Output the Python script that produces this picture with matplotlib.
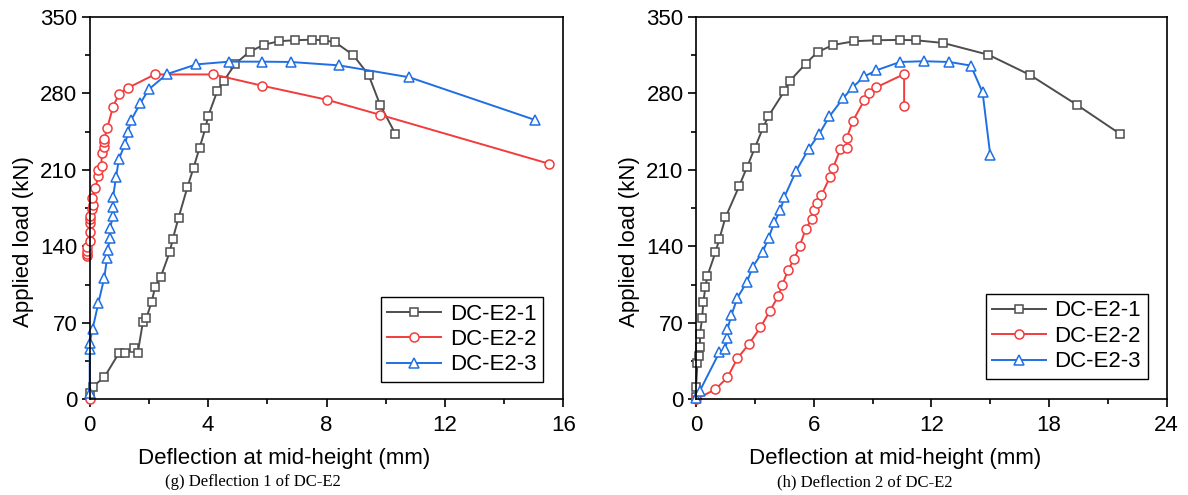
import matplotlib
matplotlib.use('Agg')
import matplotlib.pyplot as plt
from matplotlib.ticker import MultipleLocator

plt.rcParams['font.family'] = ['Liberation Sans', 'DejaVu Sans']

# (g) Deflection 1 of DC-E2
g1_x = [0, 0.1, 0.49, 0.98, 1.2, 1.5, 1.62, 1.8, 1.91, 2.09, 2.21, 2.4, 2.7, 2.81, 3.0, 3.3,
        3.51, 3.71, 3.91, 4.0, 4.31, 4.52, 4.92, 5.4, 5.9, 6.4, 6.92, 7.51, 7.91, 8.3, 8.9,
        9.42, 9.81, 10.33]
g1_y = [5.5, 11.7, 20, 42, 42, 47, 42, 71, 74, 89, 102.5, 112, 134.5, 147, 166, 194,
        212, 230, 248, 259, 282, 291, 307, 318, 324.5, 327.6, 328.5, 329, 328.5, 326.5, 315,
        296.8, 269.4, 242.7]
g2_x = [0, -0.1, -0.1, -0.1, -0.08, 0, 0, 0, 0, 0, 0.08, 0.1, 0.08, 0.19, 0.29, 0.29,
        0.4, 0.4, 0.49, 0.49, 0.49, 0.59, 0.79, 0.99, 1.3, 2.2, 4.18, 5.81, 8.02, 9.82, 15.53]
g2_y = [0, 131.5, 133, 136, 139, 144.6, 153.5, 161.5, 165, 167.6, 173.8, 177.5, 184, 193, 204.5, 209.7,
        213.4, 225, 230.6, 235, 238, 248, 267.7, 279.4, 285, 297.2, 297.2, 287, 274, 260.2, 215.4]
g3_x = [0, 0, 0, 0.1, 0.29, 0.49, 0.59, 0.61, 0.69, 0.69, 0.79, 0.79, 0.79, 0.89, 0.99,
        1.2, 1.3, 1.4, 1.71, 2.0, 2.61, 3.6, 4.71, 5.81, 6.79, 8.42, 10.8, 15.04]
g3_y = [5.5, 46, 51.6, 64.5, 87.8, 110.8, 129.6, 137, 148, 157, 167.6, 176, 184.8, 203.6, 220,
        234, 244.7, 255.4, 270.8, 283.7, 297.5, 306.4, 308.9, 308.9, 308.6, 305.5, 294.6, 255.6]

# (h) Deflection 2 of DC-E2
h1_x = [0, 0, 0.07, 0.17, 0.2, 0.2, 0.31, 0.37, 0.48, 0.58, 0.99, 1.19, 1.5, 2.19, 2.6, 2.99,
        3.4, 3.69, 4.5, 4.79, 5.59, 6.2, 7.0, 8.07, 9.23, 10.4, 11.2, 12.6, 14.91, 17.02,
        19.42, 21.63]
h1_y = [2.5, 11.7, 33, 40, 48, 60, 74, 89, 103, 113, 134.5, 146.8, 166.4, 194.7, 212.5, 229.7,
        247.8, 259, 281.9, 291.4, 307, 317.8, 324.2, 327.6, 328.5, 328.8, 328.5, 326, 315.2, 296.8,
        269.4, 242.7]
h2_x = [0, 0.99, 1.6, 2.11, 2.69, 3.28, 3.77, 4.2, 4.39, 4.69, 5.0, 5.29, 5.59, 5.9, 6.0,
        6.19, 6.39, 6.82, 6.99, 7.36, 7.7, 7.68, 8.0, 8.58, 8.82, 9.2, 10.61, 10.61]
h2_y = [0, 9.2, 20, 37.5, 50.4, 65.7, 81, 94.6, 104.4, 118.2, 128.3, 140.6, 155.7, 164.9, 173.2,
        180, 186.7, 203, 211.9, 228.7, 230.3, 238.9, 254.8, 273.6, 280.3, 285.5, 297.5, 268]
h3_x = [0, 0.2, 1.19, 1.5, 1.6, 1.6, 1.8, 2.11, 2.6, 2.89, 3.4, 3.71, 3.99, 4.3, 4.5,
        5.1, 5.74, 6.29, 6.8, 7.51, 7.99, 8.58, 9.18, 10.4, 11.6, 12.92, 14.01, 14.61, 15.0]
h3_y = [1, 8, 43, 46, 56, 64, 76.8, 93, 107.5, 121.3, 135, 148, 162, 172.9, 185,
        208.8, 229, 243, 258.8, 275.7, 285.5, 295.4, 300.9, 308.6, 309.3, 308.6, 305.3, 280.8, 223.7]

labels = ['DC-E2-1', 'DC-E2-2', 'DC-E2-3']
colors = ['#4d4d4d', '#f23c3c', '#1f6fe3']
markers = ['s', 'o', '^']
msizes = [6, 6.5, 7.5]

fg = plt.figure(figsize=(11.88, 4.95), dpi=100)
ax1 = fg.add_axes([0.0755, 0.1933, 0.3987, 0.7729])
ax2 = fg.add_axes([0.5859, 0.1933, 0.3962, 0.7729])

panels = [(ax1, [(g1_x, g1_y), (g2_x, g2_y), (g3_x, g3_y)], 16, 4, (0.957, 0.045)),
          (ax2, [(h1_x, h1_y), (h2_x, h2_y), (h3_x, h3_y)], 24, 6, (0.960, 0.053))]

for ax, series, xmax, xstep, lpos in panels:
    for (x, y), lab, c, m, ms in zip(series, labels, colors, markers, msizes):
        kw = dict(color=c, marker=m, markersize=ms, markerfacecolor='white',
                  markeredgecolor=c, markeredgewidth=1.1, linewidth=1.4, clip_on=False)
        if ax is ax1 and lab == 'DC-E2-2':
            # origin reading is not joined to the rest of the curve in the source
            ax.plot(x[:1], y[:1], linestyle='none', **{k: v for k, v in kw.items() if k != 'linewidth'})
            ax.plot(x[1:], y[1:], label=lab, **kw)
        else:
            ax.plot(x, y, label=lab, **kw)
    ax.set_xlim(0, xmax)
    ax.set_ylim(0, 350)
    ax.xaxis.set_major_locator(MultipleLocator(xstep))
    ax.xaxis.set_minor_locator(MultipleLocator(xstep / 2))
    ax.yaxis.set_major_locator(MultipleLocator(70))
    ax.yaxis.set_minor_locator(MultipleLocator(35))
    ax.tick_params(axis='both', which='major', direction='out', length=6, width=1.2,
                   labelsize=16, pad=3)
    ax.tick_params(axis='x', which='major', pad=5)
    ax.tick_params(axis='both', which='minor', direction='out', length=3.5, width=1.2)
    for sp in ax.spines.values():
        sp.set_linewidth(1.2)
    leg = ax.legend(loc='lower right', bbox_to_anchor=lpos, fontsize=16, frameon=True,
                    fancybox=False, framealpha=1, edgecolor='black', handlelength=2.4,
                    borderpad=0.3, labelspacing=0.2, handletextpad=0.4, borderaxespad=0)
    leg.get_frame().set_linewidth(1.0)

# axis titles, placed where the reference has them
for xc in (0.0194, 0.5297):
    fg.text(xc, 0.512, 'Applied load (kN)', rotation=90, ha='center', va='center', fontsize=16)
fg.text(0.239, 0.0747, 'Deflection at mid-height (mm)', ha='center', va='center', fontsize=16)
fg.text(0.7534, 0.0747, 'Deflection at mid-height (mm)', ha='center', va='center', fontsize=16)

fg.text(0.213, 0.0263, '(g) Deflection 1 of DC-E2', ha='center', va='center', fontsize=12,
        family=['Liberation Serif', 'DejaVu Serif'])
fg.text(0.7277, 0.0263, '(h) Deflection 2 of DC-E2', ha='center', va='center', fontsize=12,
        family=['Liberation Serif', 'DejaVu Serif'])

fg.savefig('out.png', dpi=100)
